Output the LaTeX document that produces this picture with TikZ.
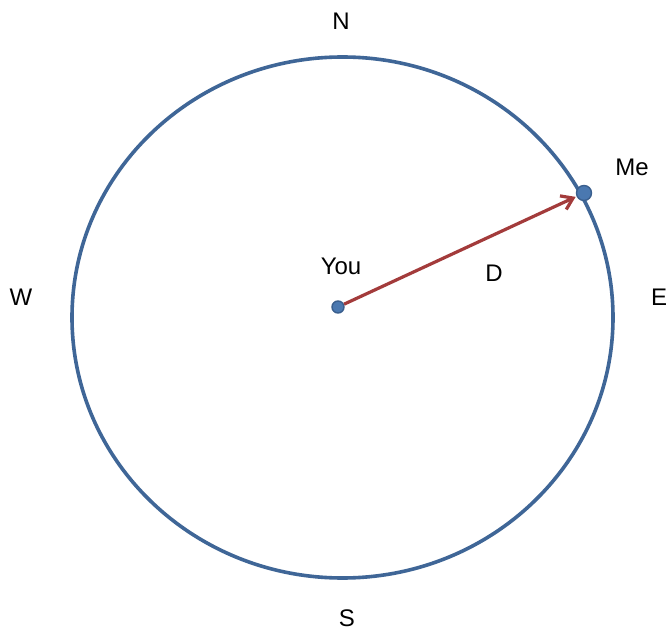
\documentclass[tikz,border=0pt]{standalone}
\usepackage{fontspec}
\setmainfont{Liberation Sans}
\usetikzlibrary{arrows.meta}
\definecolor{ringblue}{HTML}{3F6697}
\definecolor{dotblue}{HTML}{4A78B0}
\definecolor{dotedge}{HTML}{3A5F8E}
\definecolor{arrowred}{HTML}{A33B3B}
\tikzset{
  lbl/.style={font=\fontsize{24}{27}\selectfont, text=black, inner sep=0pt},
  ring/.style={draw=ringblue, line width=3.6pt},
  dotnode/.style={circle, fill=dotblue, draw=dotedge, line width=1.4pt, inner sep=0pt},
  arr/.style={draw=arrowred, line width=3.2pt, -{Straight Barb[length=11pt,width=15pt,line width=3.2pt]}, shorten >=1pt}
}
\begin{document}
\begin{tikzpicture}[x=1pt,y=-1pt]
\useasboundingbox (0,0) rectangle (670,631);
\fill[white] (0,0) rectangle (670,631);
\draw[ring] (342.5,317.5) ellipse [x radius=270.5pt, y radius=260.5pt];
\node[lbl] (N) at (341,21) {N};
\node[lbl] (S) at (347,618) {S};
\node[lbl] (W) at (21,297) {W};
\node[lbl] (E) at (659,297) {E};
\node[lbl] (MeL) at (632,167) {Me};
\node[lbl] (YouL) at (341,266) {You};
\node[lbl] (D) at (494,273) {D};
\node[dotnode, minimum size=12pt] (you) at (338,307) {};
\node[dotnode, minimum size=15pt] (me) at (584,193) {};
\draw[arr] (you) -- (me);
\end{tikzpicture}
\end{document}
